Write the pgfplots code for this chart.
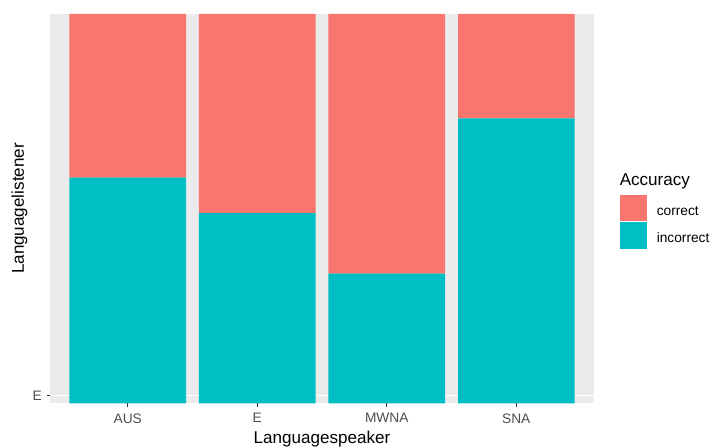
\documentclass[border=0pt]{standalone}
\usepackage{pgfplots}
\pgfplotsset{compat=1.18}
\usepackage{fontspec}
\setmainfont{Liberation Sans}
\definecolor{cred}{HTML}{F8766D}
\definecolor{cteal}{HTML}{00BFC4}
\definecolor{panelbg}{HTML}{EBEBEB}
\definecolor{ticklab}{HTML}{4D4D4D}
\definecolor{tickcol}{HTML}{333333}
\begin{document}
\begin{tikzpicture}[x=0.75pt,y=0.75pt]
\path[use as bounding box] (0,0) rectangle (713,447);
\begin{axis}[
  at={(37.5pt,32.75pt)}, anchor=south west,
  scale only axis, width=408pt, height=292pt,
  xmin=0.4, xmax=4.6, ymin=0, ymax=1,
  ybar stacked, bar width=0.9, bar shift=0pt,
  axis background/.style={fill=panelbg},
  axis line style={draw=none},
  xtick={1,2,3,4}, xticklabels={AUS,E,MWNA,SNA},
  ytick={0.0195}, yticklabels={E},
  ymajorgrids, xmajorgrids=false,
  major grid style={white, line width=0.8pt},
  tick align=outside, major tick length=2.6pt,
  tick style={tickcol, line width=0.5pt},
  xtick pos=bottom, ytick pos=left,
  tick label style={font=\fontsize{10.3}{12}\selectfont, text=ticklab},
  xticklabel style={yshift=-1.5pt},
  /pgf/number format/assume math mode=true,
]
\addplot[fill=cteal, draw=none] coordinates {(1,0.5795) (2,0.4888) (3,0.333) (4,0.732)};
\addplot[fill=cred, draw=none] coordinates {(1,0.4205) (2,0.5112) (3,0.667) (4,0.268)};
\end{axis}
\node[font=\fontsize{12.8}{15}\selectfont, rotate=90] at (19.5,{447-208.5}) {Languagelistener};
\node[font=\fontsize{12.8}{15}\selectfont, anchor=base, inner sep=0pt] at (322,{447-443}) {Languagespeaker};
\node[font=\fontsize{12.8}{15}\selectfont, anchor=base west, inner sep=0pt] at (619.5,{447-185}) {Accuracy};
\fill[cred] (620,{447-195}) rectangle (646.5,{447-221});
\fill[cteal] (620,{447-222}) rectangle (646.5,{447-248.5});
\node[font=\fontsize{10.3}{12}\selectfont, anchor=base west, inner sep=0pt] at (656.5,{447-215}) {correct};
\node[font=\fontsize{10.3}{12}\selectfont, anchor=base west, inner sep=0pt] at (656.5,{447-242.5}) {incorrect};
\end{tikzpicture}
\end{document}
